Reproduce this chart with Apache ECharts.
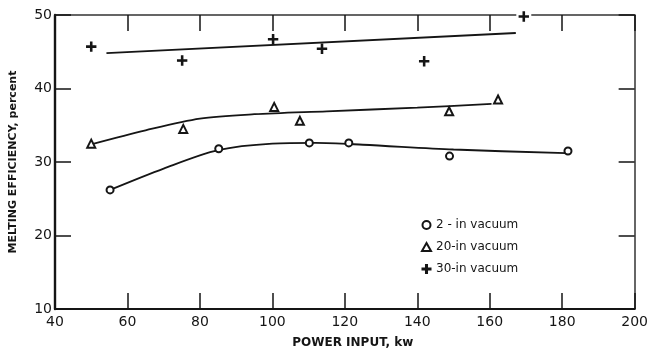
<!DOCTYPE html>
<html>
<head>
<meta charset="utf-8">
<script src="https://cdn.jsdelivr.net/npm/echarts@6/dist/echarts.min.js"></script>
<style>
  html, body { margin: 0; padding: 0; background: #fff; }
  #chart { width: 651px; height: 354px; }
</style>
</head>
<body>
<div id="chart"></div>
<script>
const pts2in = [[55.2, 26.2], [85.2, 31.8], [110.2, 32.6], [121.1, 32.6], [148.9, 30.8], [181.6, 31.5]];
const pts20in = [[50, 32.5], [75.4, 34.5], [100.5, 37.5], [107.6, 35.6], [148.8, 36.9], [162.3, 38.5]];
const pts30in = [[50, 45.7], [75.1, 43.8], [100.2, 46.7], [113.7, 45.4], [141.9, 43.7], [169.4, 49.8]];

// Hand-drawn fitted curves
const curve2in = [[55.2, 26.2], [70, 29.1], [85, 31.6], [100, 32.5], [112, 32.6],
  [125, 32.35], [150, 31.7], [181, 31.2]];
const curve20in = [[50, 32.4], [65, 34.3], [80, 35.9], [95, 36.5], [115, 36.9],
  [140, 37.4], [160.5, 37.9]];
const curve30in = [[54.2, 44.8], [167.2, 47.55]];

const names = ['2 - in vacuum', '20-in vacuum', '30-in vacuum'];
const xTicks = { min: 40, max: 200, interval: 20 };
const yTicks = { min: 10, max: 50, interval: 10 };

const INK = '#151515';
const FONT = 'DejaVu Sans, sans-serif';
const PLUS = 'path://M4.35,0H5.65V4.35H10V5.65H5.65V10H4.35V5.65H0V4.35H4.35Z';

function curve(data) {
  return {
    type: 'line', data: data, smooth: 0.3, showSymbol: false, silent: true,
    lineStyle: { color: INK, width: 1.8 }, z: 2
  };
}
function marks(name, data, symbol, size) {
  return {
    name: name, type: 'scatter', data: data, symbol: symbol, symbolSize: size, z: 4,
    itemStyle: { color: INK, borderColor: INK, borderWidth: 1.4, opacity: 1 }
  };
}

const tickOpts = { show: true, inside: true, length: 16, lineStyle: { color: INK, width: 1.5 } };

const chart = echarts.init(document.getElementById('chart'), null, { renderer: 'canvas' });
chart.setOption({
  animation: false,
  backgroundColor: '#fff',
  textStyle: { fontFamily: FONT, color: INK },
  grid: { left: 51, right: 5, top: 15, bottom: 40 },
  legend: {
    orient: 'vertical', left: 416, top: 213, itemWidth: 9, itemHeight: 8, itemGap: 8,
    textStyle: { fontFamily: FONT, fontSize: 12, color: INK, lineHeight: 14 },
    data: [
      { name: names[0], icon: 'emptyCircle', itemStyle: { borderWidth: 1.2 } },
      { name: names[1], icon: 'emptyTriangle' },
      { name: names[2], icon: PLUS }
    ]
  },
  xAxis: [{
    type: 'value', position: 'bottom', ...xTicks,
    name: 'POWER INPUT, kw', nameLocation: 'middle', nameGap: 28,
    nameTextStyle: { fontFamily: FONT, fontSize: 12, fontWeight: 'bold', color: INK, padding: [0, 0, 0, 16] },
    axisLine: { show: true, lineStyle: { color: INK, width: 2 } },
    axisTick: tickOpts,
    axisLabel: { fontFamily: FONT, fontSize: 14, color: INK, margin: 6 },
    splitLine: { show: false }
  }, {
    type: 'value', position: 'top', ...xTicks,
    axisLine: { show: true, lineStyle: { color: '#333', width: 1.5 } },
    axisTick: tickOpts, axisLabel: { show: false }, splitLine: { show: false }
  }],
  yAxis: [{
    type: 'value', position: 'left', ...yTicks,
    name: 'MELTING EFFICIENCY, percent', nameLocation: 'middle', nameGap: 36,
    nameTextStyle: { fontFamily: FONT, fontSize: 11, fontWeight: 'bold', color: INK },
    axisLine: { show: true, lineStyle: { color: INK, width: 2.4 } },
    axisTick: tickOpts,
    axisLabel: { fontFamily: FONT, fontSize: 14, color: INK, margin: 3 },
    splitLine: { show: false }
  }, {
    type: 'value', position: 'right', ...yTicks,
    axisLine: { show: true, lineStyle: { color: '#333', width: 1.5 } },
    axisTick: tickOpts, axisLabel: { show: false }, splitLine: { show: false }
  }],
  series: [
    curve(curve2in), curve(curve20in), curve(curve30in),
    // the plus sitting on the top frame breaks the frame line in the original
    {
      type: 'scatter', data: [pts30in[5]], symbol: 'rect', symbolSize: [15, 5], silent: true, z: 3,
      itemStyle: { color: '#fff', opacity: 1 }
    },
    marks(names[0], pts2in, 'emptyCircle', 7),
    marks(names[1], pts20in, 'emptyTriangle', 8),
    marks(names[2], pts30in, PLUS, 9)
  ]
});
</script>
</body>
</html>
